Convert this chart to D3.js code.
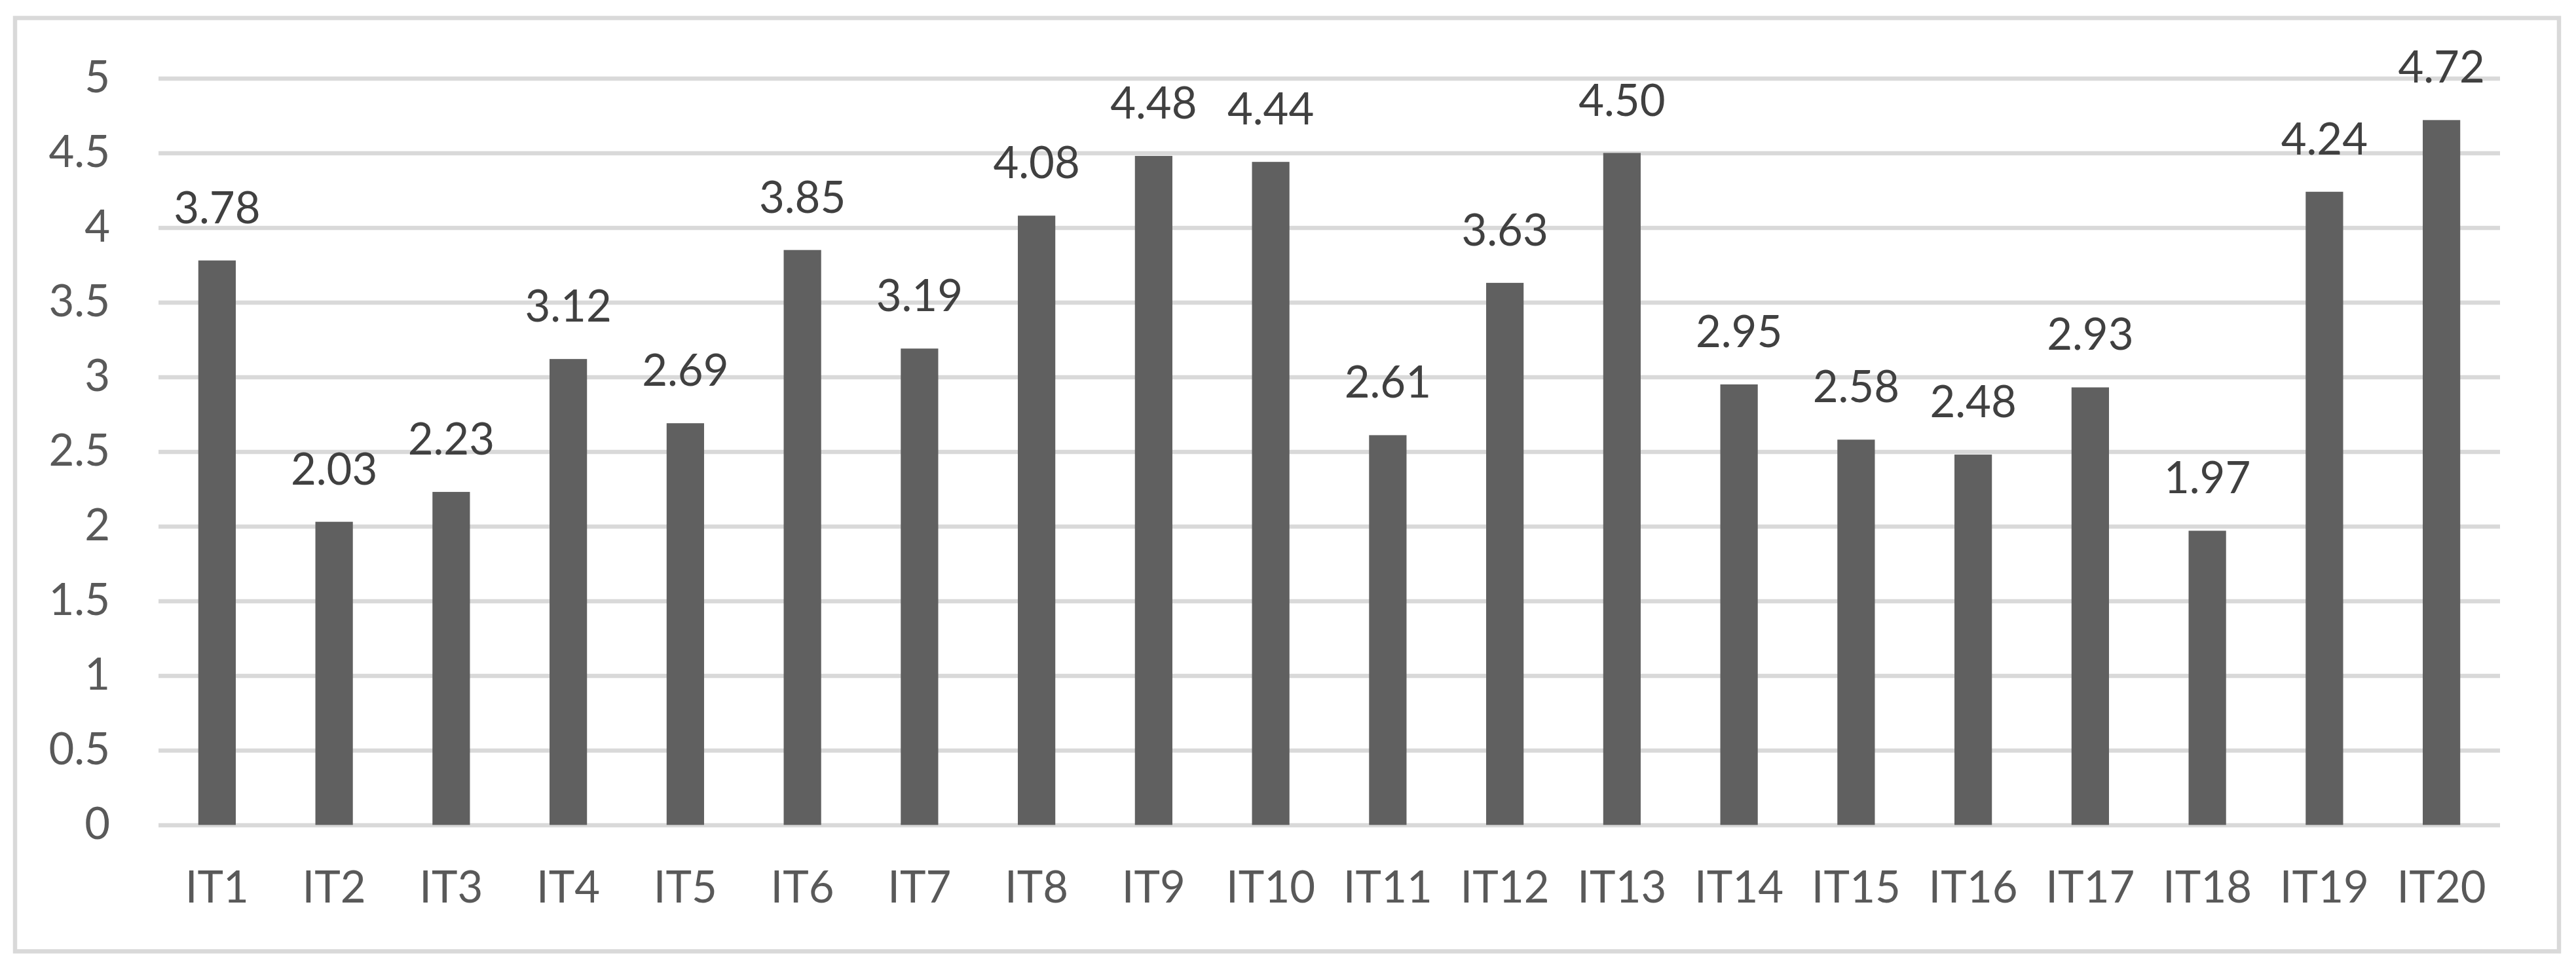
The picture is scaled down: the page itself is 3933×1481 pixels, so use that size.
<!DOCTYPE html>
<html>
<head>
<meta charset="utf-8">
<script src="https://cdnjs.cloudflare.com/ajax/libs/d3/7.8.5/d3.min.js"></script>
<style>
  body { margin: 0; background: #fff; }
  text { font-family: Lato, "Open Sans", sans-serif; }
</style>
</head>
<body>
<div id="viz"></div>
<script>
var items = ["IT1","IT2","IT3","IT4","IT5","IT6","IT7","IT8","IT9","IT10",
             "IT11","IT12","IT13","IT14","IT15","IT16","IT17","IT18","IT19","IT20"];
var scores = [3.78, 2.03, 2.23, 3.12, 2.69, 3.85, 3.19, 4.08, 4.48, 4.44,
              2.61, 3.63, 4.50, 2.95, 2.58, 2.48, 2.93, 1.97, 4.24, 4.72];
var yTicks = [0, 0.5, 1, 1.5, 2, 2.5, 3, 3.5, 4, 4.5, 5];

var W = 3933, H = 1481;
var margin = {top: 119.5, right: 116, bottom: 221.5, left: 242},
    width = W - margin.left - margin.right,
    height = H - margin.top - margin.bottom;

var svg = d3.select('#viz').append('svg')
    .attr('width', W)
    .attr('height', H);

// outer frame
svg.append('rect')
    .attr('x', 23).attr('y', 27.5)
    .attr('width', 3884).attr('height', 1425)
    .attr('fill', 'none')
    .attr('stroke', '#d9d9d9')
    .attr('stroke-width', 6.5);

var g = svg.append('g')
    .attr('transform', 'translate(' + margin.left + ',' + margin.top + ')');

var x = d3.scaleBand()
    .domain(items)
    .range([0, width])
    .paddingInner(0.68)
    .paddingOuter(0.34);

var y = d3.scaleLinear()
    .domain([0, 5])
    .range([height, 0]);

// y axis + gridlines
var yAxis = g.append('g')
    .call(d3.axisLeft(y).tickValues(yTicks).tickSize(-width).tickPadding(74)
        .tickFormat(d3.format('')));
yAxis.select('.domain').remove();
yAxis.selectAll('line').attr('stroke', '#d9d9d9').attr('stroke-width', 6.5);
yAxis.selectAll('text')
    .attr('fill', '#595959')
    .style('font-size', '67px');

// bars
g.selectAll('rect.bar')
    .data(scores)
    .enter().append('rect')
    .attr('class', 'bar')
    .attr('x', function(d, i) { return x(items[i]); })
    .attr('width', x.bandwidth())
    .attr('y', function(d) { return y(d); })
    .attr('height', function(d) { return height - y(d); })
    .attr('fill', '#606060');

// value labels
g.selectAll('text.lbl')
    .data(scores)
    .enter().append('text')
    .attr('class', 'lbl')
    .attr('x', function(d, i) { return x(items[i]) + x.bandwidth() / 2; })
    .attr('y', function(d) { return y(d) - 57; })
    .attr('text-anchor', 'middle')
    .attr('fill', '#404040')
    .style('font-size', '67px')
    .text(function(d) { return d.toFixed(2); });

// x axis
var xAxis = g.append('g')
    .attr('transform', 'translate(0,' + height + ')')
    .call(d3.axisBottom(x).tickSize(0).tickPadding(71));
xAxis.select('.domain').remove();
xAxis.selectAll('text')
    .attr('fill', '#595959')
    .style('font-size', '67px');
</script>
</body>
</html>
